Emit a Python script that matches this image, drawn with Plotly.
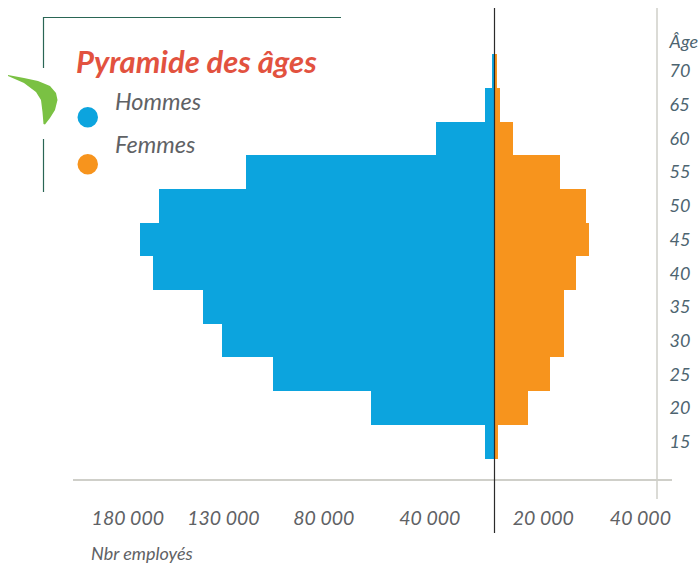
import plotly.graph_objects as go

ages = [70, 65, 60, 55, 50, 45, 40, 35, 30, 25, 20, 15]
hommes = [600, 2300, 14400, 61100, 82500, 87200, 84000, 71700, 67000, 54500, 30400, 2300]
femmes = [600, 1350, 4550, 16100, 22500, 23250, 20050, 17100, 17100, 13650, 8250, 850]
x_tick_pos = [-90200, -66700, -42000, -15900, 12000, 35900]
x_tick_labels = ["180 000", "130 000", "80 000", "40 000", "20 000", "40 000"]
y_title_pos = 74.35
y_title = "Âge"

W, H = 700, 564
L, R, T, B = 73, 700, 8, 480
ZERO = 494.5
EMP_PER_PX = 246
AGE_PER_PX = 5 / 33.7
Y0 = 71

def X(p):
    return (p - L) / (R - L)

def Y(p):
    return (B - p) / (B - T)

fig = go.Figure()
fig.add_bar(y=ages, x=[-v for v in hommes], orientation="h", marker=dict(color="#0ca4de", line_width=0),
            width=5, name="Hommes", showlegend=False)
fig.add_bar(y=ages, x=femmes, orientation="h", marker=dict(color="#f7941d", line_width=0),
            width=5, name="Femmes", showlegend=False)

frame = "#2a6655"
grey = "#cfcfc9"
shapes = [
    dict(type="line", xref="paper", yref="paper", x0=X(43), x1=X(341), y0=Y(17.5), y1=Y(17.5), line=dict(color=frame, width=1.2)),
    dict(type="line", xref="paper", yref="paper", x0=X(43.5), x1=X(43.5), y0=Y(17), y1=Y(68), line=dict(color=frame, width=1.2)),
    dict(type="line", xref="paper", yref="paper", x0=X(43.5), x1=X(43.5), y0=Y(139), y1=Y(192), line=dict(color=frame, width=1.2)),
    dict(type="line", xref="paper", yref="paper", x0=X(73), x1=X(672), y0=Y(480), y1=Y(480), line=dict(color=grey, width=2)),
    dict(type="line", xref="paper", yref="paper", x0=X(657), x1=X(657), y0=Y(8), y1=Y(499), line=dict(color=grey, width=1.5)),
    dict(type="line", xref="paper", yref="paper", x0=X(ZERO), x1=X(ZERO), y0=Y(8), y1=Y(533), line=dict(color="#2b2b2b", width=1.2)),
    dict(type="circle", xref="paper", yref="paper", x0=X(77.5), x1=X(98), y0=Y(107), y1=Y(127.5), fillcolor="#0ca4de", line_width=0),
    dict(type="circle", xref="paper", yref="paper", x0=X(77.5), x1=X(98), y0=Y(154), y1=Y(174.5), fillcolor="#f7941d", line_width=0),
]
leaf = [(8, 75), (24, 78), (38, 81), (50, 86), (56, 93), (57.5, 100), (55, 110), (50, 118), (45, 124.5),
        (43.5, 124), (42.5, 112), (41, 100), (36, 92), (24, 83), (8, 76)]
path = "M " + " L ".join(f"{X(a):.5f} {Y(b):.5f}" for a, b in leaf) + " Z"
shapes.append(dict(type="path", xref="paper", yref="paper", path=path, fillcolor="#7ac143", line_width=0))

def note(text, px, py, size, color, bold=False):
    return dict(text=text, x=X(px), y=Y(py), xref="paper", yref="paper", showarrow=False, xanchor="left",
                yanchor="middle", align="left", xshift=-2,
                font=dict(family="Lato", size=size, color=color, style="italic", weight="bold" if bold else "normal"))

annotations = [
    note("Pyramide des âges", 76, 61.5, 31, "#e2523f", bold=True),
    note("Hommes", 115, 101, 23.5, "#5f6265"),
    note("Femmes", 115, 144, 23.5, "#5f6265"),
    note("Nbr employés", 91, 553, 18, "#5f6265"),
]

fig.update_layout(
    width=W, height=H, autosize=False, barmode="overlay", bargap=0,
    margin=dict(l=L, r=W - R, t=T, b=H - B), paper_bgcolor="white", plot_bgcolor="white",
    shapes=shapes, annotations=annotations,
    xaxis=dict(range=[(L - ZERO) * EMP_PER_PX, (R - ZERO) * EMP_PER_PX], tickmode="array", tickvals=x_tick_pos,
               ticktext=x_tick_labels, showgrid=False, zeroline=False, showline=False,
               ticks="outside", ticklen=21, tickcolor="rgba(0,0,0,0)",
               tickfont=dict(family="Lato", size=19.5, color="#5f6265", style="italic")),
    yaxis=dict(range=[70 - (B - Y0) * AGE_PER_PX, 70 + (Y0 - T) * AGE_PER_PX], tickmode="array",
               tickvals=[y_title_pos] + ages, ticktext=[y_title] + [str(a) for a in ages],
               showgrid=False, zeroline=False, showline=False, side="right", anchor="free", position=X(657),
               ticks="outside", ticklen=8, tickcolor="rgba(0,0,0,0)",
               tickfont=dict(family="Lato", size=18, color="#4d6470", style="italic")),
)
fig.write_html("out.html", config={"displayModeBar": False},
               post_script="document.body.style.margin='0';document.body.style.overflow='hidden';")
